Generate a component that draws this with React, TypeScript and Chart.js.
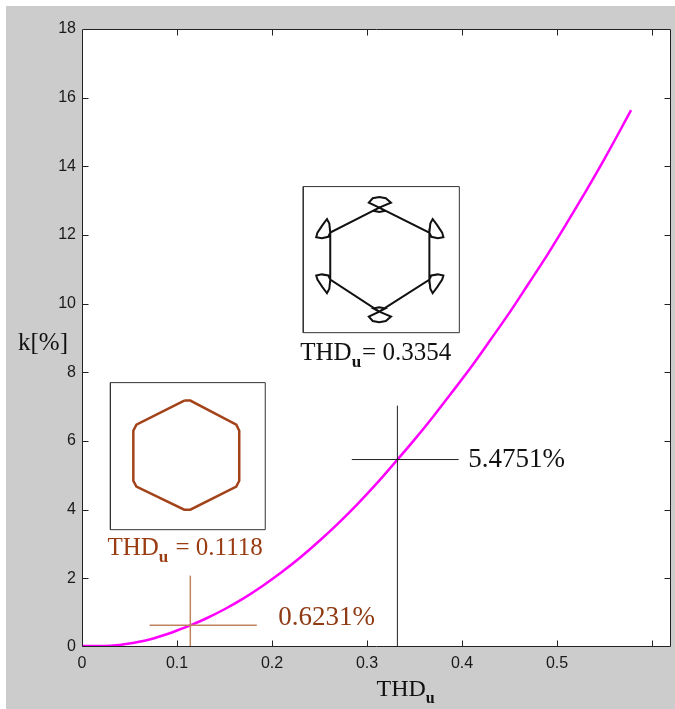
import React, { useEffect, useRef } from "react";
import { Chart, registerables } from "chart.js";
Chart.register(...registerables);

// ---- main curve: k[%] versus THD_u ----
const THD = [0, 0.01, 0.02, 0.03, 0.04, 0.05, 0.06, 0.07, 0.08, 0.09, 0.10, 0.114, 0.13, 0.15, 0.17, 0.19, 0.21, 0.23, 0.25, 0.27, 0.29, 0.31, 0.332, 0.35, 0.37, 0.39, 0.41, 0.43, 0.45, 0.47, 0.49, 0.51, 0.53, 0.55, 0.578];
const K = [0.03, 0.03, 0.03, 0.04, 0.06, 0.10, 0.15, 0.21, 0.29, 0.38, 0.48, 0.63, 0.823, 1.100, 1.416, 1.776, 2.174, 2.613, 3.094, 3.609, 4.163, 4.757, 5.456, 6.039, 6.722, 7.438, 8.170, 8.949, 9.740, 10.581, 11.429, 12.329, 13.258, 14.218, 15.635];

// ---- axes ----
const X_MIN = 0, X_MAX = 0.62, X_STEP = 0.1, X_LAST_LABEL = 0.5;
const Y_MIN = 0, Y_MAX = 18, Y_STEP = 2;

// ---- crosshairs (brown at THD=0.1118, black at THD=0.3354) ----
const BROWN_CROSS_H_X = [0.0712, 0.184];
const BROWN_CROSS_H_Y = [0.63, 0.63];
const BROWN_CROSS_V_X = [0.114, 0.114];
const BROWN_CROSS_V_Y = [0, 2.08];
const BLACK_CROSS_H_X = [0.284, 0.3964];
const BLACK_CROSS_H_Y = [5.46, 5.46];
const BLACK_CROSS_V_X = [0.332, 0.332];
const BLACK_CROSS_V_Y = [0, 7.03];

// ---- annotation texts ----
const NOTE_TEXT = ["5.4751%", "0.6231%"];
const NOTE_X = [0.4066, 0.2066];
const NOTE_Y = [5.25, 0.65];
const NOTE_COLOR = ["#111111", "#8e3a12"];

// ---- insets (shape points in local 0..100 units of each inset box) ----
const INSET1_BOX = [0.2329, 0.3972, 9.155, 13.41]; // x0, x1, y0, y1
const INSET2_BOX = [0.0299, 0.1929, 3.417, 7.70];
const INSET1_LABEL = ["= 0.3354", "#111111"];
const INSET2_LABEL = [" = 0.1118", "#9a3c12"];

const LOOP_U = [48.7, 42.0, 44.5, 48.7, 52.9, 56.2, 48.7, 52.6, 48.7, 44.9, 48.7,
  80.8, 81.4, 82.9, 85.8, 89.0, 89.8, 86.2, 82.1, 80.8,
  80.8, 82.1, 86.2, 89.8, 89.0, 85.8, 82.9, 81.4, 80.8,
  48.7, 56.2, 52.9, 48.7, 44.5, 42.0, 48.7, 44.9, 48.7, 52.6, 48.7,
  17.3, 16.0, 11.9, 8.3, 9.1, 12.3, 15.2, 16.7, 17.3,
  17.3, 16.7, 15.2, 12.3, 9.1, 8.3, 11.9, 16.0, 17.3,
  48.7];
const LOOP_V = [85.6, 89.0, 92.0, 92.8, 92.0, 89.0, 85.6, 83.4, 82.6, 83.4, 85.6,
  68.5, 74.7, 77.8, 73.6, 68.5, 65.4, 64.7, 65.6, 68.5,
  36.3, 39.2, 39.9, 39.2, 36.3, 31.2, 27.0, 30.1, 36.3,
  14.4, 11.0, 8.0, 7.2, 8.0, 11.0, 14.4, 16.6, 17.4, 16.6, 14.4,
  36.3, 39.2, 39.9, 39.2, 36.3, 31.2, 27.0, 30.1, 36.3,
  68.5, 74.7, 77.8, 73.6, 68.5, 65.4, 64.7, 65.6, 68.5,
  85.6];
const HEX_U = [47.7, 51.6, 81.3, 83.2, 83.2, 81.3, 51.6, 47.7, 16.8, 14.8, 14.8, 16.8, 47.7];
const HEX_V = [87.8, 87.8, 71.4, 67.3, 33.3, 29.3, 13.6, 13.6, 29.3, 33.3, 67.3, 71.4, 87.8];
const BOX_U = [0, 100, 100, 0, 0];
const BOX_V = [0, 0, 100, 100, 0];

const pts = (xs: number[], ys: number[]) => xs.map((x, i) => ({ x, y: ys[i] }));
const place = (box: number[], us: number[], vs: number[]) =>
  us.map((u, i) => ({ x: box[0] + (u / 100) * (box[1] - box[0]), y: box[2] + (vs[i] / 100) * (box[3] - box[2]) }));

const SERIF = '"Liberation Serif", "Times New Roman", serif';
const SANS = '"Liberation Sans", Arial, sans-serif';

function drawTHD(ctx: CanvasRenderingContext2D, x: number, y: number, rest: string, color: string, size: number) {
  ctx.fillStyle = color;
  ctx.textAlign = "left";
  ctx.textBaseline = "alphabetic";
  ctx.font = `${size}px ${SERIF}`;
  ctx.fillText("THD", x, y);
  const w = ctx.measureText("THD").width;
  ctx.font = `bold ${Math.round(size * 0.68)}px ${SERIF}`;
  ctx.fillText("u", x + w, y + size * 0.3);
  const wu = ctx.measureText("u").width;
  if (rest) {
    ctx.font = `${size}px ${SERIF}`;
    ctx.fillText(rest, x + w + wu + 1, y);
  }
}

const framePlugin = {
  id: "matlabFrame",
  beforeDraw(chart: any) {
    const { ctx, chartArea: a, width, height } = chart;
    ctx.save();
    ctx.fillStyle = "#ffffff";
    ctx.fillRect(0, 0, width, height);
    ctx.fillStyle = "#cccccc";
    ctx.fillRect(6, 6, width - 6, height - 6);
    ctx.fillStyle = "#ffffff";
    ctx.fillRect(a.left, a.top, a.right - a.left, a.bottom - a.top);
    ctx.restore();
  },
  afterDatasetsDraw(chart: any) {
    const { ctx, chartArea: a, scales } = chart;
    const xs = scales.x, ys = scales.y;
    ctx.save();
    ctx.strokeStyle = "#222222";
    ctx.lineWidth = 1;
    const L = Math.round(a.left) + 0.5, R = Math.round(a.right) - 0.5;
    const T = Math.round(a.top) + 0.5, B = Math.round(a.bottom) - 0.5;
    ctx.beginPath();
    ctx.rect(L, T, R - L, B - T);
    const tl = 6;
    xs.ticks.forEach((t: any) => {
      const px = Math.round(xs.getPixelForValue(t.value)) + 0.5;
      if (px <= L + 1 || px >= R - 1) return;
      ctx.moveTo(px, B); ctx.lineTo(px, B - tl);
      ctx.moveTo(px, T); ctx.lineTo(px, T + tl);
    });
    ys.ticks.forEach((t: any) => {
      const py = Math.round(ys.getPixelForValue(t.value)) + 0.5;
      if (py <= T + 1 || py >= B - 1) return;
      ctx.moveTo(L, py); ctx.lineTo(L + tl, py);
      ctx.moveTo(R, py); ctx.lineTo(R - tl, py);
    });
    ctx.stroke();

    // annotation values
    ctx.font = `27px ${SERIF}`;
    ctx.textAlign = "left";
    ctx.textBaseline = "alphabetic";
    NOTE_TEXT.forEach((s, i) => {
      ctx.fillStyle = NOTE_COLOR[i];
      ctx.fillText(s, xs.getPixelForValue(NOTE_X[i]), ys.getPixelForValue(NOTE_Y[i]));
    });

    // inset captions
    drawTHD(ctx, xs.getPixelForValue(INSET1_BOX[0]) - 3, ys.getPixelForValue(INSET1_BOX[2]) + 27, INSET1_LABEL[0], INSET1_LABEL[1], 25);
    drawTHD(ctx, xs.getPixelForValue(INSET2_BOX[0]) - 3, ys.getPixelForValue(INSET2_BOX[2]) + 25, INSET2_LABEL[0], INSET2_LABEL[1], 25);

    // axis titles
    ctx.fillStyle = "#111111";
    ctx.font = `25px ${SERIF}`;
    ctx.textAlign = "right";
    ctx.fillText("k[%]", a.left - 14, (a.top + a.bottom) / 2 + 12);
    drawTHD(ctx, (a.left + a.right) / 2, a.bottom + 49, "", "#111111", 24);
    ctx.restore();
  },
};

export default function App() {
  const ref = useRef<HTMLCanvasElement | null>(null);
  useEffect(() => {
    document.body.style.margin = "0";
    const canvas = ref.current!;
    const line = (data: any[], color: string, width: number, smooth = false) => ({
      data, borderColor: color, backgroundColor: color, borderWidth: width,
      showLine: true, pointRadius: 0, fill: false, tension: 0,
      cubicInterpolationMode: smooth ? "monotone" : "default",
    });
    const chart = new Chart(canvas, {
      type: "scatter",
      data: {
        datasets: [
          line(place(INSET1_BOX, BOX_U, BOX_V), "#333333", 1),
          line(place(INSET2_BOX, BOX_U, BOX_V), "#333333", 1),
          line(place(INSET1_BOX, LOOP_U, LOOP_V), "#111111", 2),
          line(place(INSET2_BOX, HEX_U, HEX_V), "#a3431a", 2.5),
          line(pts(BROWN_CROSS_H_X, BROWN_CROSS_H_Y), "#c0835f", 1.5),
          line(pts(BROWN_CROSS_V_X, BROWN_CROSS_V_Y), "#c0835f", 1.5),
          line(pts(BLACK_CROSS_H_X, BLACK_CROSS_H_Y), "#222222", 1),
          line(pts(BLACK_CROSS_V_X, BLACK_CROSS_V_Y), "#222222", 1),
          line(pts(THD, K), "#ff00ff", 2.5, true),
        ] as any,
      },
      options: {
        animation: false,
        responsive: false,
        devicePixelRatio: 1,
        layout: { padding: { left: 0, top: 29, right: 4, bottom: 0 } },
        plugins: { legend: { display: false }, tooltip: { enabled: false } },
        scales: {
          x: {
            type: "linear", min: X_MIN, max: X_MAX,
            grid: { display: false, drawTicks: false },
            border: { display: false },
            ticks: {
              stepSize: X_STEP, includeBounds: false, autoSkip: false, maxRotation: 0,
              padding: 7, color: "#1a1a1a", font: { family: SANS, size: 16 },
              callback: (v: any) => (v > X_LAST_LABEL + 1e-9 ? "" : String(+Number(v).toFixed(1))),
            },
            afterFit: (s: any) => { s.height = 62; },
          },
          y: {
            type: "linear", min: Y_MIN, max: Y_MAX,
            grid: { display: false, drawTicks: false },
            border: { display: false },
            ticks: {
              stepSize: Y_STEP, includeBounds: false, autoSkip: false,
              padding: 6, color: "#1a1a1a", font: { family: SANS, size: 16 },
              callback: (v: any) => String(v),
            },
            afterFit: (s: any) => { s.width = 82; },
          },
        },
      } as any,
      plugins: [framePlugin],
    });
    return () => chart.destroy();
  }, []);
  return <canvas ref={ref} width={675} height={709} style={{ display: "block" }} />;
}
